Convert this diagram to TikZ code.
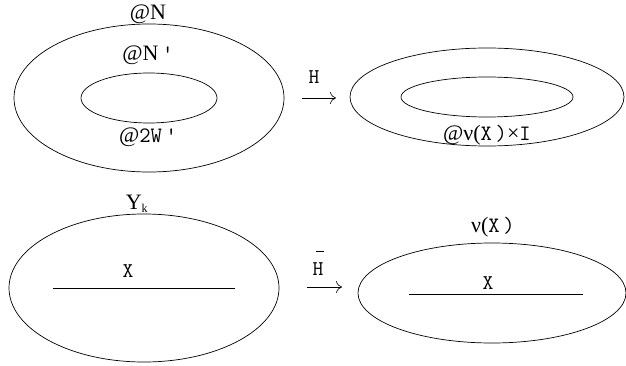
\documentclass[tikz,border=0pt]{standalone}
\usepackage{fontspec}
\setmainfont{Liberation Serif}
\usetikzlibrary{arrows.meta}
\begin{document}
\begin{tikzpicture}[x=1pt,y=-1pt,line width=0.7pt,
  lbl/.style={inner sep=0pt,font=\fontsize{22}{24}\selectfont},
  mlbl/.style={inner sep=0pt,font=\ttfamily\fontsize{21}{22}\selectfont},
  maparrow/.style={-{To[length=6pt,width=12pt]},line width=0.6pt}]
\useasboundingbox (0,0) rectangle (626,366);

% upper left: the collar between the two boundaries
\coordinate (tl) at (149,98);
\draw (tl) ellipse [x radius=135, y radius=74];
\draw (tl) ellipse [x radius=68, y radius=25];
\node[lbl] (nTop) at (148,14) {@N};
\node[lbl] (nPrime) at (148,55) {@N\texttt{\,'}};
\node[lbl] (wPrime) at (148,137) {@\texttt{2W\,'}};

% map H
\node[mlbl] (hLab) at (314,77) {H};
\coordinate (hA) at (302,98);
\coordinate (hB) at (336,98);
\draw[maparrow] (hA) -- (hB);

% upper right: product with the interval
\coordinate (tr) at (487,97);
\draw (tr) ellipse [x radius=137, y radius=49];
\draw (tr) ellipse [x radius=86, y radius=20];
\node[lbl] (nuI) at (487,135) {@ν(\texttt{X\,)}×\texttt{I}};

% lower left
\coordinate (bl) at (144,288);
\draw (bl) ellipse [x radius=135, y radius=74];
\coordinate (xl1) at (53,288);
\coordinate (xl2) at (235,288);
\draw (xl1) -- (xl2);
\node[mlbl] (xLeft) at (128,271) {X};
\node[lbl] (yk) at (137,204) {Y\textsubscript{\fontsize{12}{12}\selectfont k}};

% map H bar
\node[mlbl] (hbLab) at (318,269) {H};
\coordinate (barA) at (316,251);
\coordinate (barB) at (324,251);
\draw[line width=0.5pt] (barA) -- (barB);
\coordinate (hbA) at (307,287);
\coordinate (hbB) at (342,287);
\draw[maparrow] (hbA) -- (hbB);

% lower right: the tubular neighbourhood
\coordinate (br) at (492,293);
\draw (br) ellipse [x radius=134, y radius=50];
\coordinate (xr1) at (409,294);
\coordinate (xr2) at (583,294);
\draw (xr1) -- (xr2);
\node[mlbl] (xRight) at (488,283) {X};
\node[lbl] (nuX) at (493,227) {ν(\texttt{X\,)}};
\end{tikzpicture}
\end{document}
